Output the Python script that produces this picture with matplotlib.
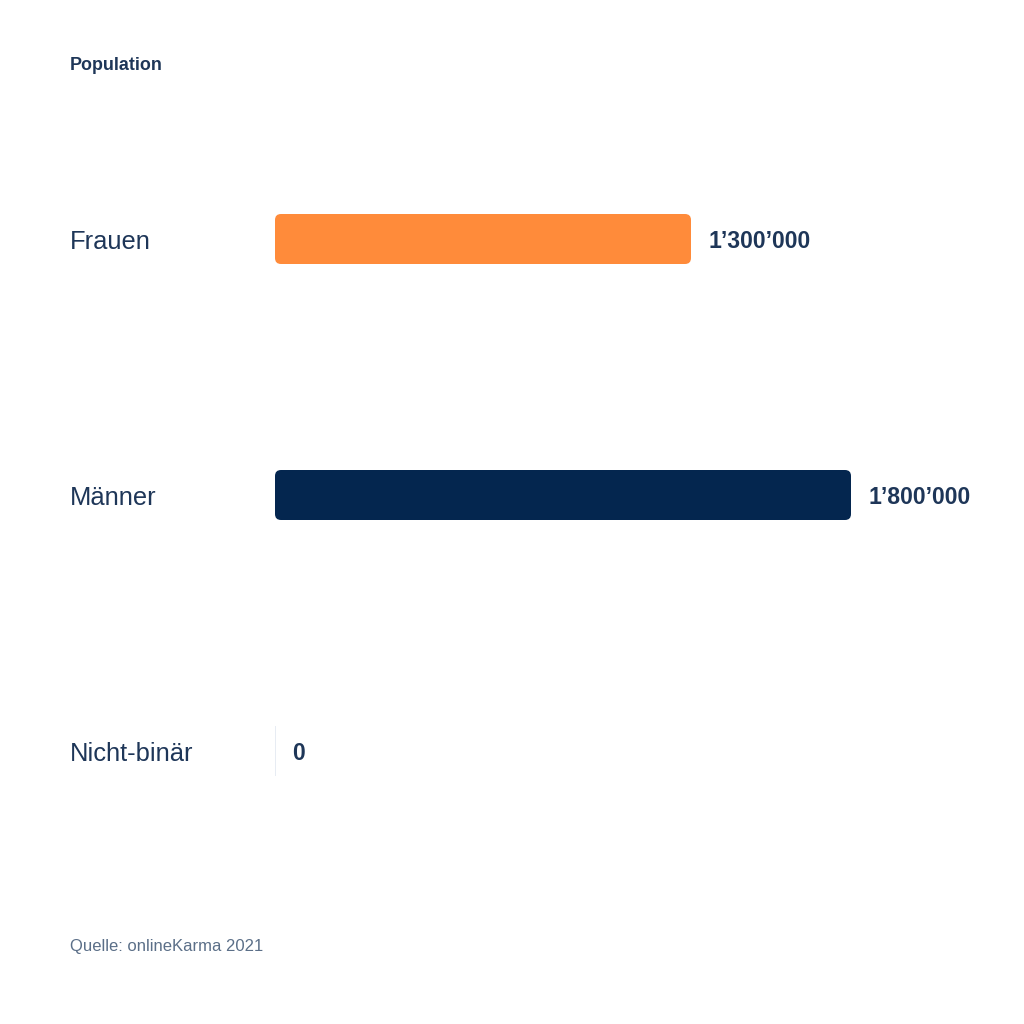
import matplotlib.pyplot as plt
from matplotlib.patches import FancyBboxPatch

categories = ['Frauen', 'Männer', 'Nicht-binär']
values = [1300000, 1800000, 0]
bar_colors = ['#FF8B3A', '#04264F', '#04264F']
title = 'Population'
source = 'Quelle: onlineKarma 2021'

text_color = '#1E3658'
plt.rcParams['font.family'] = ['Liberation Sans', 'DejaVu Sans']


def fmt(v):
    # swiss style thousands separator
    return '{:,}'.format(v).replace(',', '\u2019')


fig = plt.figure(figsize=(10.24, 10.24), dpi=100)
W = H = 1024.0
# axes: x 275..851 px, y 111..879 px (three slots of 256 px)
ax = fig.add_axes([275 / W, 1 - 879 / H, 576 / W, 768 / H])
ax.set_xlim(0, max(values))
ax.set_ylim(len(categories) - 0.5, -0.5)
ax.axis('off')

bar_h = 50 / 256
bars = ax.barh(range(len(categories)), values, height=bar_h, color=bar_colors)

rx = 6 * max(values) / 576
ry = 6 / 256
for b, v in zip(bars, values):
    x0, y0 = b.get_x(), b.get_y()
    w, h = b.get_width(), b.get_height()
    b.set_visible(False)
    if v > 0:
        p = FancyBboxPatch((x0, y0), w, h,
                           boxstyle='round,pad=0,rounding_size=%f' % rx,
                           mutation_aspect=ry / rx,
                           facecolor=b.get_facecolor(), edgecolor='none')
        ax.add_patch(p)
    else:
        ax.plot([0, 0], [y0, y0 + h], color='#E3E9F1', lw=1.2,
                solid_capstyle='butt')

px = max(values) / 576
for i, v in enumerate(values):
    ax.text(v + 17 * px, i + 3 / 256, fmt(v), ha='left', va='center',
            fontsize=16.6, fontweight='bold', color=text_color)
    fig.text(70 / W, 1 - (242 + 256 * i) / H, categories[i], ha='left',
             va='center', fontsize=18.4, color=text_color)

fig.text(70 / W, 1 - 65 / H, title, ha='left', va='center', fontsize=12.9,
         fontweight='bold', color=text_color)
fig.text(70 / W, 1 - 947 / H, source, ha='left', va='center', fontsize=12,
         color='#5B6F88')

fig.savefig('out.png', dpi=100, facecolor='white')
